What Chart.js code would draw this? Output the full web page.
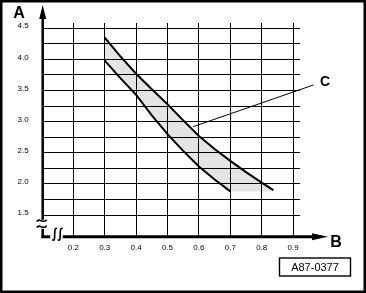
<!DOCTYPE html>
<html>
<head>
<meta charset="utf-8">
<script src="https://cdn.jsdelivr.net/npm/chart.js@4/dist/chart.umd.min.js"></script>
<style>
  html, body { margin: 0; padding: 0; background: #fff; }
  canvas { display: block; }
</style>
</head>
<body>
<canvas id="chart" width="366" height="293"></canvas>
<script>
// values: B on x, A on y
const upperX = [0.3, 0.35, 0.4, 0.45, 0.5, 0.55, 0.6, 0.65, 0.7, 0.75, 0.8, 0.837];
const upperY = [4.35, 4.05, 3.77, 3.52, 3.28, 3.02, 2.77, 2.56, 2.37, 2.19, 2.02, 1.9];
const lowerX = [0.3, 0.35, 0.4, 0.45, 0.5, 0.55, 0.6, 0.65, 0.7];
const lowerY = [3.98, 3.7, 3.43, 3.1, 2.8, 2.53, 2.28, 2.07, 1.88];
// the shaded band is cut off flat along this A value
const bandFloor = 1.88;
const leaderX = [0.582, 0.965];
const leaderY = [2.92, 3.59];

const xTicks = [0.2, 0.3, 0.4, 0.5, 0.6, 0.7, 0.8, 0.9];
const yTicks = [1.5, 1.75, 2, 2.25, 2.5, 2.75, 3, 3.25, 3.5, 3.75, 4, 4.25, 4.5];
const yLabelValues = [1.5, 2, 2.5, 3, 3.5, 4, 4.5];

const xTitle = 'B';
const yTitle = 'A';
const calloutText = 'C';
const figureId = 'A87-0377';

const FONT = '"Liberation Sans", Arial, sans-serif';

const pts = (xs, ys) => xs.map((x, i) => ({ x, y: ys[i] }));
const upperPts = pts(upperX, upperY);
const lowerPts = pts(lowerX, lowerY);
const floorPts = lowerPts.concat([{ x: upperX[upperX.length - 1], y: bandFloor }]);

// axes with arrows and break marks, labels, frame
const decor = {
  id: 'decor',
  afterDraw(chart) {
    const { ctx, chartArea: a, scales } = chart;
    const L = a.left, B = a.bottom;
    ctx.save();
    ctx.strokeStyle = '#000';
    ctx.fillStyle = '#000';

    // frame
    ctx.lineWidth = 2.5;
    ctx.strokeRect(1.25, 1.25, chart.width - 2.5, chart.height - 2.5);

    // y axis
    ctx.lineWidth = 2.5;
    ctx.beginPath();
    ctx.moveTo(L, 18); ctx.lineTo(L, B - 17);
    ctx.moveTo(L, B - 8); ctx.lineTo(L, B + 1.25);
    ctx.stroke();
    ctx.beginPath();
    ctx.moveTo(L, 5); ctx.lineTo(L + 3.5, 19); ctx.lineTo(L - 3.5, 19); ctx.closePath();
    ctx.fill();

    // x axis
    ctx.lineWidth = 3;
    ctx.beginPath();
    ctx.moveTo(L - 1.25, B); ctx.lineTo(L + 7.5, B);
    ctx.moveTo(L + 20, B); ctx.lineTo(313, B);
    ctx.stroke();
    ctx.beginPath();
    ctx.moveTo(328, B); ctx.lineTo(312, B - 3.5); ctx.lineTo(312, B + 3.5); ctx.closePath();
    ctx.fill();

    // break marks
    ctx.lineWidth = 1.6;
    ctx.beginPath();
    [B - 16, B - 10].forEach((yy) => {
      ctx.moveTo(L - 6, yy + 1);
      ctx.bezierCurveTo(L - 3, yy - 4, L, yy + 4, L + 4, yy - 1);
    });
    [L + 12, L + 17.5].forEach((xx) => {
      ctx.moveTo(xx + 2.5, B - 8);
      ctx.bezierCurveTo(xx, B - 10, xx, B - 5, xx, B - 2);
      ctx.bezierCurveTo(xx, B + 1, xx, B + 5, xx - 2.5, B + 3);
    });
    ctx.stroke();

    // axis titles
    ctx.textAlign = 'center';
    ctx.textBaseline = 'middle';
    ctx.font = 'bold 16px ' + FONT;
    ctx.fillText(yTitle, 19, 14);
    ctx.fillText(xTitle, 336, 243);

    // callout
    ctx.font = 'bold 14px ' + FONT;
    const cx = scales.x.getPixelForValue(leaderX[1]);
    const cy = scales.y.getPixelForValue(leaderY[1]);
    ctx.fillText(calloutText, cx + 11.5, cy - 2.5);

    // figure number box
    ctx.lineWidth = 1.4;
    ctx.strokeRect(279.5, 258, 71, 18);
    ctx.font = '11px ' + FONT;
    ctx.fillText(figureId, 315, 267.5);
    ctx.restore();
  }
};

new Chart(document.getElementById('chart'), {
  type: 'line',
  data: {
    datasets: [
      {
        data: upperPts,
        borderColor: '#000',
        borderWidth: 2,
        backgroundColor: '#e4e4e4',
        fill: '+1',
        pointRadius: 0,
        tension: 0
      },
      {
        data: floorPts,
        borderWidth: 0,
        borderColor: 'rgba(0,0,0,0)',
        fill: false,
        pointRadius: 0,
        tension: 0
      },
      {
        data: lowerPts,
        borderColor: '#000',
        borderWidth: 2,
        fill: false,
        pointRadius: 0,
        tension: 0
      },
      {
        data: pts(leaderX, leaderY),
        borderColor: '#000',
        borderWidth: 1,
        fill: false,
        pointRadius: 0,
        clip: false
      }
    ]
  },
  options: {
    responsive: false,
    animation: false,
    events: [],
    layout: { padding: { left: 0, top: 23, right: 66, bottom: 36.3 } },
    plugins: {
      legend: { display: false },
      tooltip: { enabled: false },
      filler: { drawTime: 'beforeDraw' }
    },
    scales: {
      x: {
        type: 'linear',
        min: 0.1025,
        max: 0.922,
        afterBuildTicks: (s) => { s.ticks = xTicks.map((v) => ({ value: v })); },
        afterFit: (s) => { s.height = 20; },
        grid: { color: '#000', lineWidth: 1, drawTicks: false },
        border: { display: false },
        ticks: {
          autoSkip: false,
          maxRotation: 0,
          padding: 6,
          color: '#000',
          font: { family: FONT, size: 8 },
          callback: (v) => v.toFixed(1)
        }
      },
      y: {
        type: 'linear',
        min: 1.152,
        max: 4.585,
        afterBuildTicks: (s) => { s.ticks = yTicks.map((v) => ({ value: v })); },
        afterFit: (s) => { s.width = 42.7; },
        grid: { color: '#000', lineWidth: 1, drawTicks: false },
        border: { display: false },
        ticks: {
          autoSkip: false,
          padding: 14,
          labelOffset: -2,
          color: '#000',
          font: { family: FONT, size: 8 },
          callback: (v) => (yLabelValues.some((t) => Math.abs(t - v) < 1e-6) ? v.toFixed(1) : '')
        }
      }
    }
  },
  plugins: [decor]
});
</script>
</body>
</html>
